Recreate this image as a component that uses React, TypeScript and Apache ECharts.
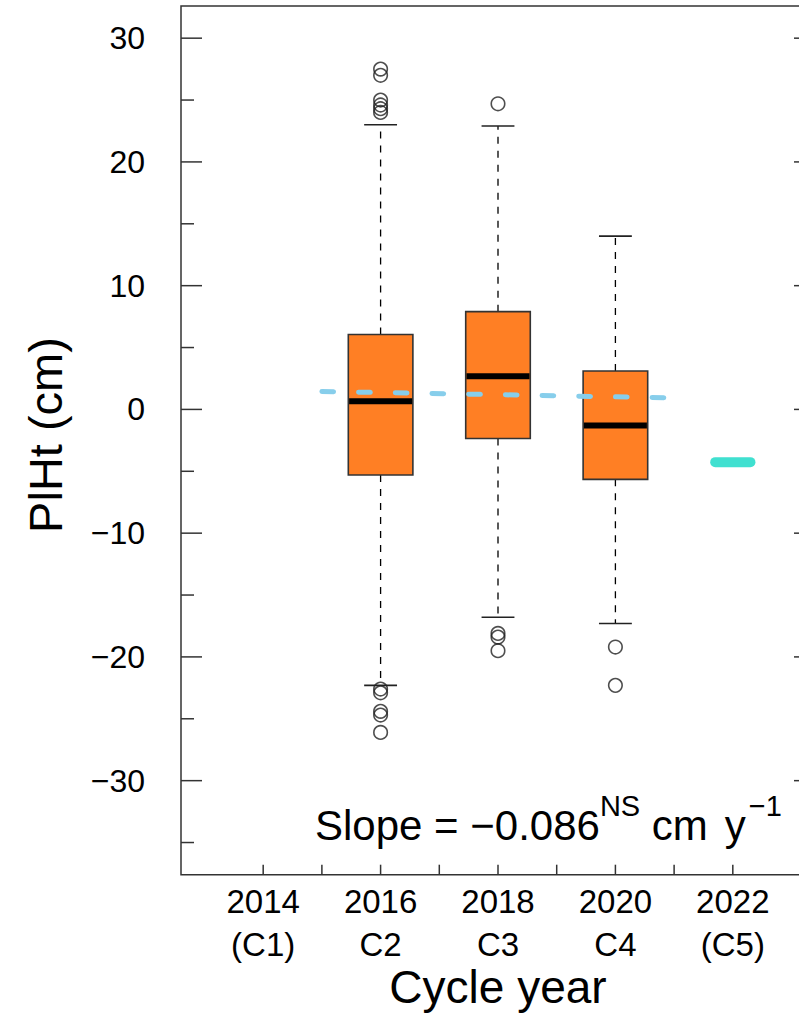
import React, { useEffect, useRef } from "react";
import * as echarts from "echarts";

// Axis limits (data units)
const X_MIN = 2012.6;
const X_MAX = 2023.4;
const Y_MIN = -37.6;
const Y_MAX = 32.6;

// Box statistics per measurement cycle
const cycleYears = [2016, 2018, 2020];
const whiskerLow = [-22.3, -16.8, -17.3];
const quartile1 = [-5.3, -2.35, -5.65];
const medians = [0.65, 2.67, -1.3];
const quartile3 = [6.05, 7.9, 3.1];
const whiskerHigh = [23.0, 22.9, 14.0];

// Points beyond the whiskers
const outliers2016 = [27.5, 27.0, 25.0, 24.6, 24.3, 24.0, -22.6, -22.9, -24.4, -24.7, -26.1];
const outliers2018 = [24.7, -18.1, -18.4, -19.5];
const outliers2020 = [-19.2, -22.3];

// Fitted trend line
const trendYears = [2015, 2021];
const trendValues = [1.45, 0.93];

// Projected C5 value
const c5Years = [2021.7, 2022.3];
const c5Values = [-4.26, -4.26];

// Axis ticks and labels
const yMajorTicks = [-30, -20, -10, 0, 10, 20, 30];
const yMinorTicks = [-35, -25, -15, -5, 5, 15, 25];
const xTicks = [2014, 2015, 2016, 2017, 2018, 2019, 2020, 2021, 2022];
const xLabelYears = [2014, 2016, 2018, 2020, 2022];
const xLabelCycles = ["(C1)", "C2", "C3", "C4", "(C5)"];

const FONT = "'Liberation Sans', Arial, Helvetica, sans-serif";
const AXIS_COLOR = "#333";
const BOX_HALF = 0.55;
const STAPLE_HALF = 0.28;

export default function App() {
  const ref = useRef<HTMLDivElement>(null);

  useEffect(() => {
    if (!ref.current) return;
    const chart = echarts.init(ref.current, undefined, { renderer: "svg" });

    const boxData = cycleYears.map((y, i) => [
      y,
      whiskerLow[i],
      quartile1[i],
      medians[i],
      quartile3[i],
      whiskerHigh[i],
    ]);

    const outlierData = [
      ...outliers2016.map((v) => [2016, v]),
      ...outliers2018.map((v) => [2018, v]),
      ...outliers2020.map((v) => [2020, v]),
    ];

    const option: any = {
      animation: false,
      grid: {
        left: 181,
        top: 6,
        width: 634,
        height: 868.7,
        show: true,
        borderColor: AXIS_COLOR,
        borderWidth: 1.5,
        backgroundColor: "transparent",
      },
      xAxis: {
        type: "value",
        min: X_MIN,
        max: X_MAX,
        axisLine: { show: false },
        axisTick: { show: false },
        axisLabel: { show: false },
        splitLine: { show: false },
      },
      yAxis: {
        type: "value",
        min: Y_MIN,
        max: Y_MAX,
        axisLine: { show: false },
        axisTick: { show: false },
        axisLabel: { show: false },
        splitLine: { show: false },
      },
      series: [
        // y-axis ticks (major, with labels) on both sides
        {
          type: "custom",
          silent: true,
          z: 5,
          data: yMajorTicks.map((v) => [X_MIN, v]),
          encode: { x: 0, y: 1 },
          renderItem: (_p: any, api: any) => {
            const v = api.value(1);
            const l = api.coord([X_MIN, v]);
            const r = api.coord([X_MAX, v]);
            const label = v < 0 ? "\u2212" + Math.abs(v) : String(v);
            return {
              type: "group",
              children: [
                {
                  type: "line",
                  shape: { x1: l[0], y1: l[1], x2: l[0] + 21, y2: l[1] },
                  style: { stroke: AXIS_COLOR, lineWidth: 1.5 },
                },
                {
                  type: "line",
                  shape: { x1: r[0] - 21, y1: r[1], x2: r[0], y2: r[1] },
                  style: { stroke: AXIS_COLOR, lineWidth: 1.5 },
                },
                {
                  type: "text",
                  x: l[0] - 36,
                  y: l[1],
                  style: {
                    text: label,
                    fontSize: 32,
                    fontFamily: FONT,
                    fill: "#000",
                    align: "right",
                    verticalAlign: "middle",
                  },
                },
              ],
            };
          },
        },
        // y-axis minor ticks
        {
          type: "custom",
          silent: true,
          z: 5,
          data: yMinorTicks.map((v) => [X_MIN, v]),
          encode: { x: 0, y: 1 },
          renderItem: (_p: any, api: any) => {
            const l = api.coord([X_MIN, api.value(1)]);
            return {
              type: "line",
              shape: { x1: l[0], y1: l[1], x2: l[0] + 13, y2: l[1] },
              style: { stroke: AXIS_COLOR, lineWidth: 1.5 },
            };
          },
        },
        // x-axis ticks
        {
          type: "custom",
          silent: true,
          z: 5,
          data: xTicks.map((t) => [t, Y_MIN]),
          encode: { x: 0, y: 1 },
          renderItem: (_p: any, api: any) => {
            const b = api.coord([api.value(0), Y_MIN]);
            return {
              type: "line",
              shape: { x1: b[0], y1: b[1], x2: b[0], y2: b[1] - 10 },
              style: { stroke: AXIS_COLOR, lineWidth: 1.5 },
            };
          },
        },
        // x-axis labels: year and cycle
        {
          type: "custom",
          silent: true,
          z: 5,
          data: xLabelYears.map((t, i) => [t, Y_MIN, i]),
          encode: { x: 0, y: 1 },
          renderItem: (_p: any, api: any) => {
            const b = api.coord([api.value(0), Y_MIN]);
            const i = api.value(2);
            const common = {
              fontSize: 33,
              fontFamily: FONT,
              fill: "#000",
              align: "center",
              verticalAlign: "middle",
            };
            return {
              type: "group",
              children: [
                {
                  type: "text",
                  x: b[0],
                  y: b[1] + 27,
                  style: { ...common, text: String(xLabelYears[i]) },
                },
                {
                  type: "text",
                  x: b[0],
                  y: b[1] + 70,
                  style: { ...common, text: xLabelCycles[i] },
                },
              ],
            };
          },
        },
        // boxes with whiskers
        {
          type: "custom",
          z: 2,
          data: boxData,
          encode: { x: 0, y: [1, 2, 3, 4, 5] },
          renderItem: (_p: any, api: any) => {
            const x = api.value(0);
            const lo = api.value(1);
            const q1 = api.value(2);
            const med = api.value(3);
            const q3 = api.value(4);
            const hi = api.value(5);
            const c = (xx: number, v: number) => api.coord([xx, v]);
            const cx = c(x, 0)[0];
            const tl = c(x - BOX_HALF, q3);
            const br = c(x + BOX_HALF, q1);
            const sl = c(x - STAPLE_HALF, 0)[0];
            const sr = c(x + STAPLE_HALF, 0)[0];
            const yLo = c(x, lo)[1];
            const yHi = c(x, hi)[1];
            const yQ1 = br[1];
            const yQ3 = tl[1];
            const yMed = c(x, med)[1];
            const dash = { stroke: "#000", lineWidth: 1.3, lineDash: [7, 7] };
            const solid = { stroke: "#222", lineWidth: 1.6 };
            return {
              type: "group",
              children: [
                { type: "line", shape: { x1: cx, y1: yQ3, x2: cx, y2: yHi }, style: dash },
                { type: "line", shape: { x1: cx, y1: yQ1, x2: cx, y2: yLo }, style: dash },
                { type: "line", shape: { x1: sl, y1: yHi, x2: sr, y2: yHi }, style: solid },
                { type: "line", shape: { x1: sl, y1: yLo, x2: sr, y2: yLo }, style: solid },
                {
                  type: "rect",
                  shape: { x: tl[0], y: tl[1], width: br[0] - tl[0], height: br[1] - tl[1] },
                  style: { fill: "#FF7F24", stroke: "#333", lineWidth: 1.6 },
                },
                {
                  type: "line",
                  shape: { x1: tl[0] + 0.8, y1: yMed, x2: br[0] - 0.8, y2: yMed },
                  style: { stroke: "#000", lineWidth: 6 },
                },
              ],
            };
          },
        },
        // outliers
        {
          type: "scatter",
          z: 3,
          symbol: "circle",
          symbolSize: 13.5,
          data: outlierData,
          itemStyle: { color: "transparent", borderColor: "#222", borderWidth: 1.6 },
        },
        // trend line
        {
          type: "line",
          z: 4,
          data: trendYears.map((y, i) => [y, trendValues[i]]),
          showSymbol: false,
          symbol: "none",
          lineStyle: { color: "#87CEEB", width: 5, type: [11.7, 25], cap: "round" },
        },
        // C5 projection
        {
          type: "line",
          z: 4,
          data: c5Years.map((y, i) => [y, c5Values[i]]),
          showSymbol: false,
          symbol: "none",
          lineStyle: { color: "#40E0D0", width: 10, cap: "round" },
        },
      ],
      graphic: [
        {
          type: "text",
          x: 45,
          y: 435,
          rotation: Math.PI / 2,
          style: {
            text: "PlHt (cm)",
            fontSize: 47,
            fontFamily: FONT,
            fill: "#000",
            align: "center",
            verticalAlign: "middle",
          },
        },
        {
          type: "text",
          x: 498,
          y: 987,
          style: {
            text: "Cycle year",
            fontSize: 46,
            fontFamily: FONT,
            fill: "#000",
            align: "center",
            verticalAlign: "middle",
          },
        },
        {
          type: "text",
          x: 315,
          y: 791.5,
          style: {
            text: "{m|Slope = \u22120.086}{s|NS}{m| cm}{y|y}{e|\u22121}",
            fontFamily: FONT,
            fill: "#000",
            align: "left",
            verticalAlign: "top",
            rich: {
              m: { fontSize: 42, fontFamily: FONT, lineHeight: 68, verticalAlign: "middle", fill: "#000" },
              y: {
                fontSize: 42,
                fontFamily: FONT,
                lineHeight: 68,
                verticalAlign: "middle",
                fill: "#000",
                padding: [0, 0, 0, 17],
              },
              s: { fontSize: 29, fontFamily: FONT, lineHeight: 29, verticalAlign: "top", fill: "#000" },
              e: {
                fontSize: 29,
                fontFamily: FONT,
                lineHeight: 29,
                verticalAlign: "top",
                fill: "#000",
                padding: [0, 0, 0, 3],
              },
            },
          },
        },
      ],
    };

    chart.setOption(option);
    return () => chart.dispose();
  }, []);

  return (
    <div style={{ position: "fixed", left: 0, top: 0, width: 799, height: 1013, overflow: "hidden", background: "#fff" }}>
      <div ref={ref} style={{ width: 840, height: 1013 }} />
    </div>
  );
}
